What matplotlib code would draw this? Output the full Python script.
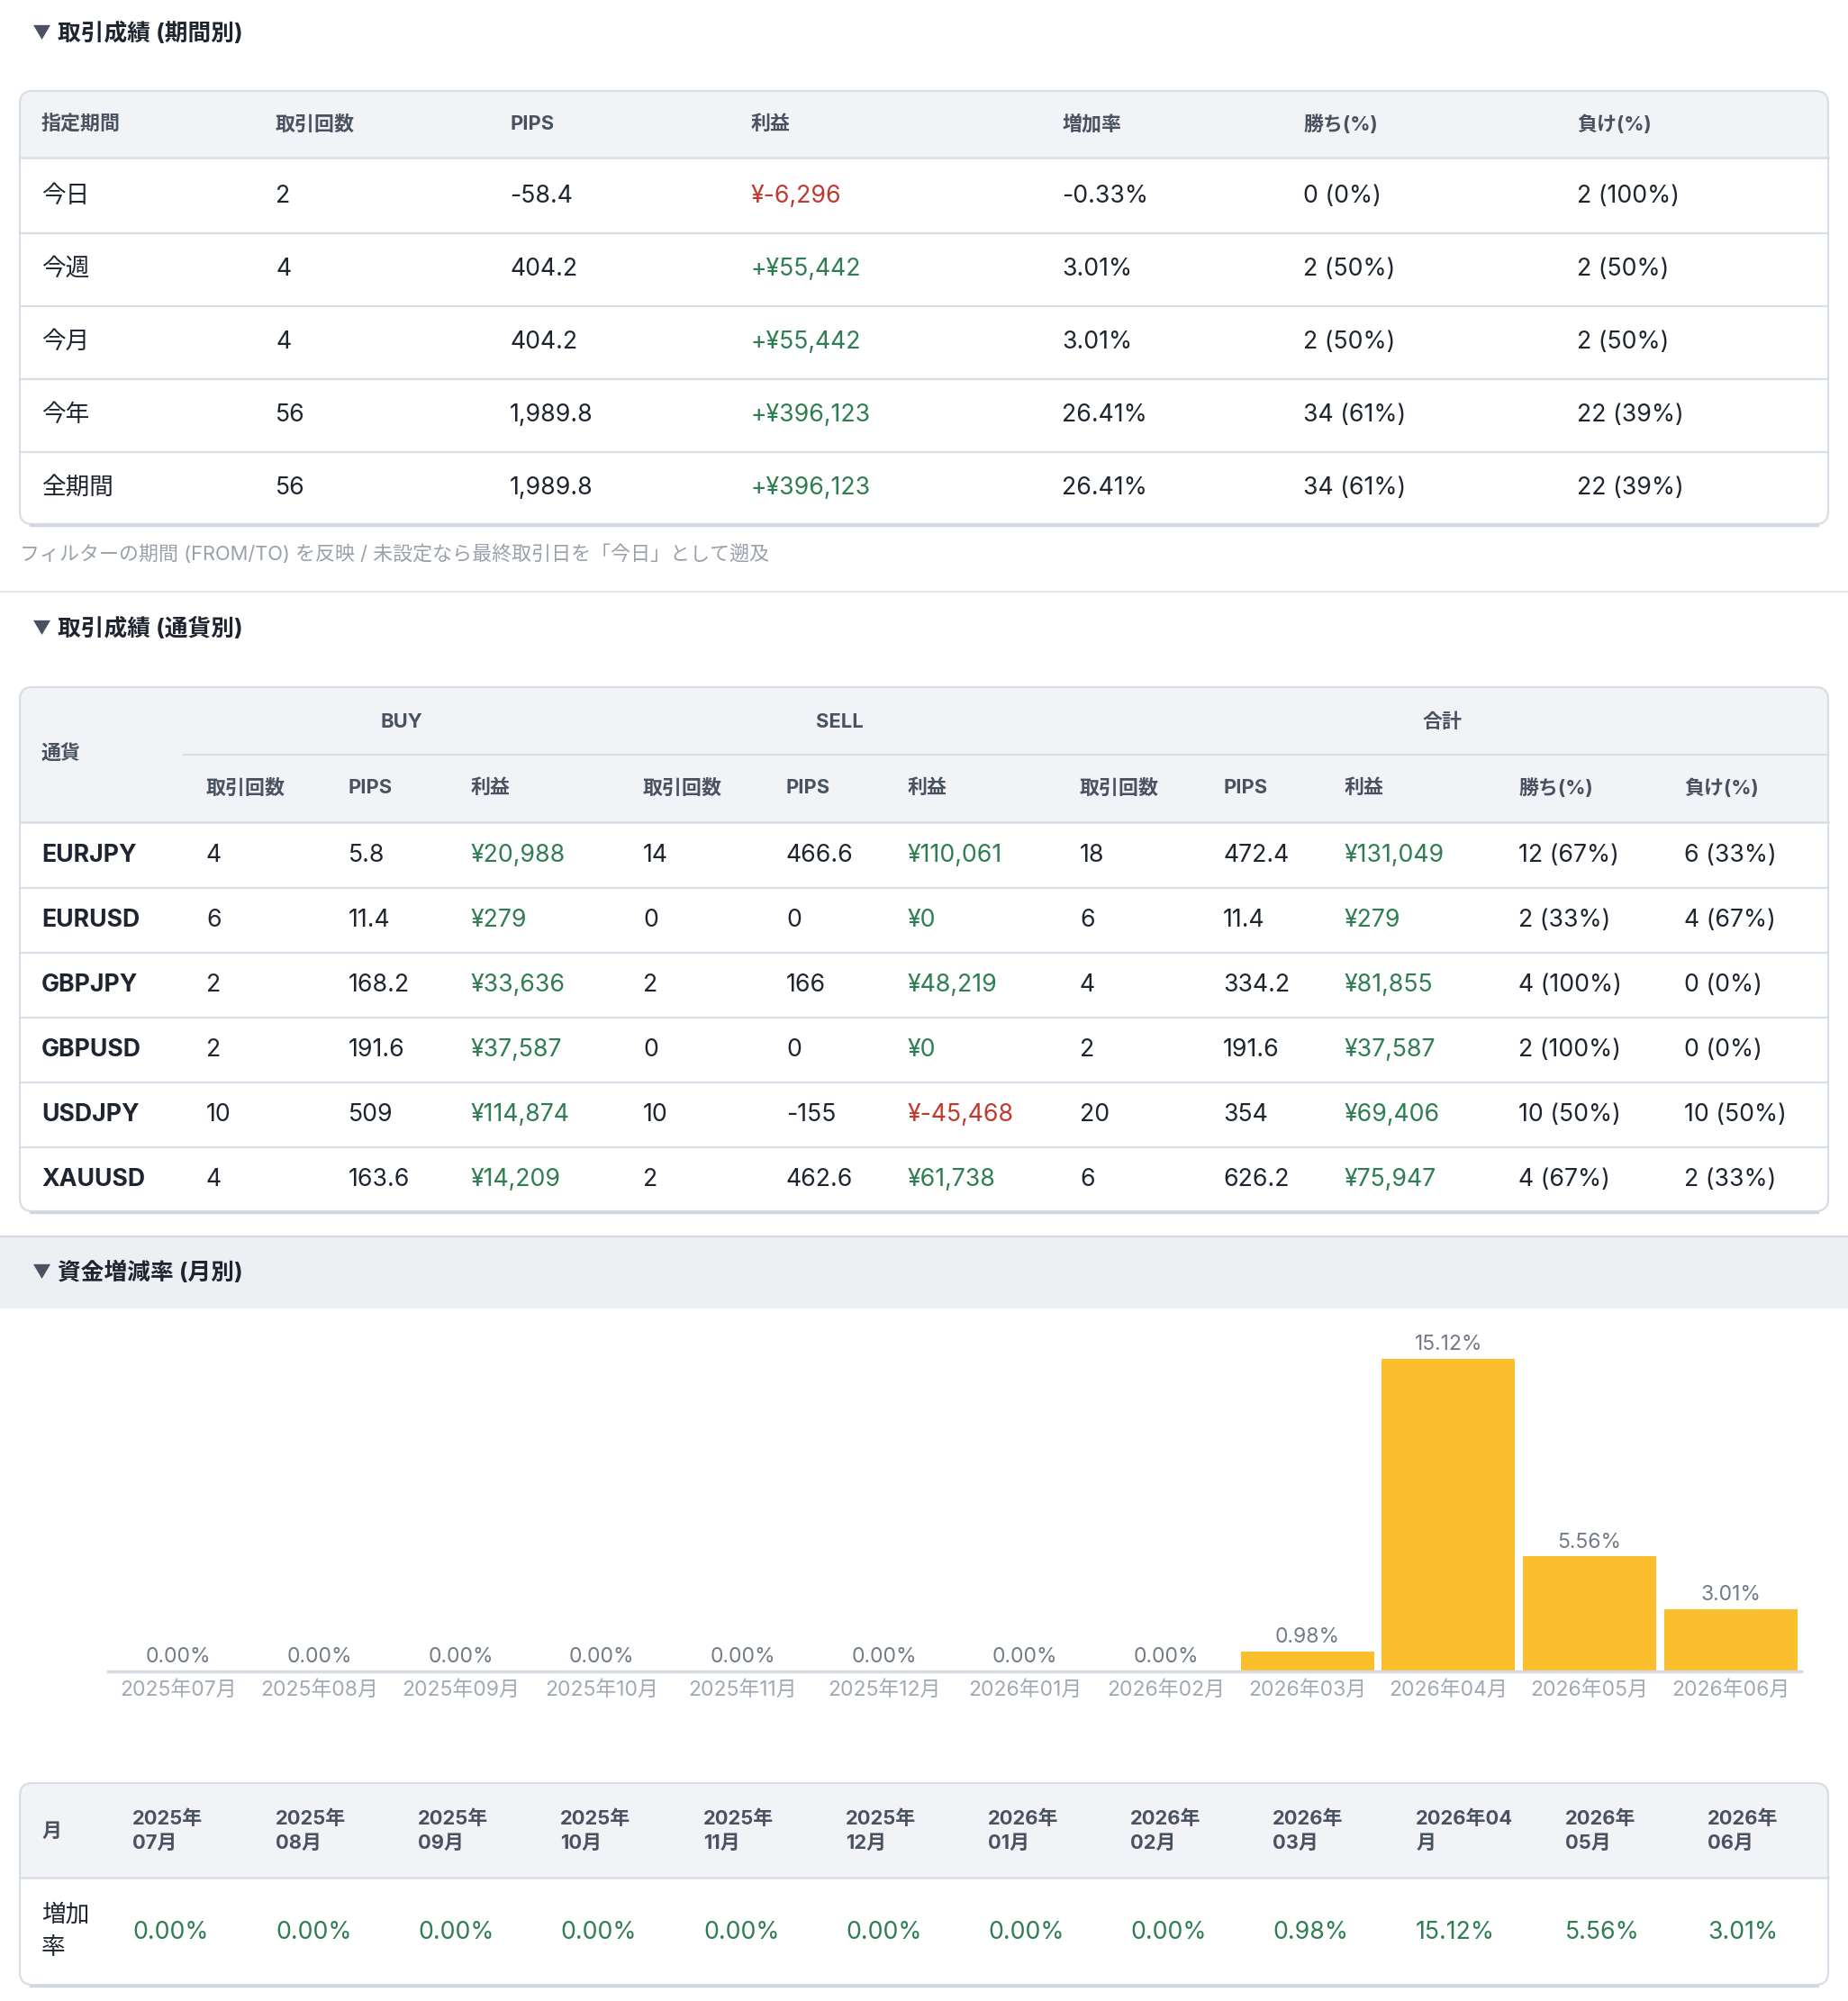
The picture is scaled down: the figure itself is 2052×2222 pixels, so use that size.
import matplotlib
matplotlib.use("Agg")
import matplotlib.pyplot as plt
from matplotlib.patches import FancyBboxPatch, Rectangle

plt.rcParams['font.family'] = ['Inter', 'Noto Sans CJK JP', 'DejaVu Sans']

# ---- data ----
period_labels = ['今日', '今週', '今月', '今年', '全期間']
period_trades = [2, 4, 4, 56, 56]
period_pips = ['-58.4', '404.2', '404.2', '1,989.8', '1,989.8']
period_profit = [-6296, 55442, 55442, 396123, 396123]
period_rate = ['-0.33%', '3.01%', '3.01%', '26.41%', '26.41%']
period_win = ['0 (0%)', '2 (50%)', '2 (50%)', '34 (61%)', '34 (61%)']
period_loss = ['2 (100%)', '2 (50%)', '2 (50%)', '22 (39%)', '22 (39%)']

pairs = ['EURJPY', 'EURUSD', 'GBPJPY', 'GBPUSD', 'USDJPY', 'XAUUSD']
buy_n = [4, 6, 2, 2, 10, 4]
buy_pips = ['5.8', '11.4', '168.2', '191.6', '509', '163.6']
buy_profit = [20988, 279, 33636, 37587, 114874, 14209]
sell_n = [14, 0, 2, 0, 10, 2]
sell_pips = ['466.6', '0', '166', '0', '-155', '462.6']
sell_profit = [110061, 0, 48219, 0, -45468, 61738]
tot_n = [18, 6, 4, 2, 20, 6]
tot_pips = ['472.4', '11.4', '334.2', '191.6', '354', '626.2']
tot_profit = [131049, 279, 81855, 37587, 69406, 75947]
tot_win = ['12 (67%)', '2 (33%)', '4 (100%)', '2 (100%)', '10 (50%)', '4 (67%)']
tot_loss = ['6 (33%)', '4 (67%)', '0 (0%)', '0 (0%)', '10 (50%)', '2 (33%)']

months = ['2025年07月', '2025年08月', '2025年09月', '2025年10月', '2025年11月', '2025年12月',
          '2026年01月', '2026年02月', '2026年03月', '2026年04月', '2026年05月', '2026年06月']
month_head = ['2025年\n07月', '2025年\n08月', '2025年\n09月', '2025年\n10月', '2025年\n11月', '2025年\n12月',
              '2026年\n01月', '2026年\n02月', '2026年\n03月', '2026年04\n月', '2026年\n05月', '2026年\n06月']
rates = [0.00, 0.00, 0.00, 0.00, 0.00, 0.00, 0.00, 0.00, 0.98, 15.12, 5.56, 3.01]

# ---- styles ----
W, H = 2052, 2222
GREEN = '#2f7d52'
RED = '#c0392f'
DARK = '#1f2530'
HEAD = '#4a5261'
LINE = '#d9dee6'
HEADBG = '#f1f3f6'
BAR = '#fbbf2e'
body_fs = 19.2
head_fs = 15.8
title_fs = 18.5
chart_fs = 16.5

fig = plt.figure(figsize=(W / 100, H / 100), dpi=100)
ax = fig.add_axes([0, 0, 1, 1])
ax.set_xlim(0, W)
ax.set_ylim(H, 0)
ax.axis('off')


def t(x, y, s, color=DARK, size=body_fs, weight='normal', ha='left', **kw):
    ax.text(x, y, s, color=color, fontsize=size, fontweight=weight, ha=ha, va='center', **kw)


def yen(v, plus=False):
    s = '¥{:,}'.format(abs(v))
    if v < 0:
        return '¥-{:,}'.format(abs(v)), RED
    if plus:
        return '+' + s, GREEN
    return s, GREEN


def box(x0, y0, x1, y1, head_bottom):
    # outer box, header fill, border
    ax.add_patch(FancyBboxPatch((x0, y0), x1 - x0, y1 - y0, boxstyle='round,pad=0,rounding_size=14',
                                fc='white', ec='none', zorder=1))
    ax.add_patch(FancyBboxPatch((x0, y0), x1 - x0, head_bottom - y0, boxstyle='round,pad=0,rounding_size=14',
                                fc=HEADBG, ec='none', zorder=1))
    ax.add_patch(Rectangle((x0, head_bottom - 20), x1 - x0, 20, fc=HEADBG, ec='none', zorder=1))
    ax.add_patch(FancyBboxPatch((x0, y0), x1 - x0, y1 - y0, boxstyle='round,pad=0,rounding_size=14',
                                fc='none', ec=LINE, lw=1.6, zorder=3))
    ax.plot([x0 + 12, x1 - 12], [y1 + 1, y1 + 1], color='#d3d8e0', lw=2.5, zorder=3)
    ax.plot([x0, x1], [head_bottom, head_bottom], color=LINE, lw=1.8, zorder=2)


def title(y, s):
    t(36, y, '▼', color=HEAD, size=15)
    t(64, y, s, color=DARK, size=title_fs, weight='bold')


# ---- section 1 : period table ----
title(37, '取引成績 (期間別)')
box(22, 101, 2030, 582, 175)
cols1 = [46, 306, 566, 834, 1179, 1447, 1751]
heads1 = ['指定期間', '取引回数', 'PIPS', '利益', '増加率', '勝ち(%)', '負け(%)']
for x, h in zip(cols1, heads1):
    t(x, 138, h, color=HEAD, size=head_fs, weight='bold')
row_y1 = [218, 299, 380, 461, 542]
for i, y in enumerate(row_y1):
    if i > 0:
        ax.plot([22, 2030], [y - 40.5, y - 40.5], color=LINE, lw=1.6, zorder=2)
    p, c = yen(period_profit[i], plus=True)
    vals = [period_labels[i], str(period_trades[i]), period_pips[i], p, period_rate[i],
            period_win[i], period_loss[i]]
    for j, (x, v) in enumerate(zip(cols1, vals)):
        t(x, y, v, color=c if j == 3 else DARK)
t(22, 615, 'フィルターの期間 (FROM/TO) を反映 / 未設定なら最終取引日を「今日」として遡及',
  color='#9aa1ab', size=15.8)
ax.plot([0, W], [657, 657], color='#e3e6eb', lw=1.6)

# ---- section 2 : currency table ----
title(698, '取引成績 (通貨別)')
box(22, 763, 2030, 1345, 913)
ax.plot([204, 2030], [838, 838], color=LINE, lw=1.6, zorder=2)
t(46, 837, '通貨', color=HEAD, size=head_fs, weight='bold')
t(446, 802, 'BUY', color=HEAD, size=head_fs, weight='bold', ha='center')
t(932, 802, 'SELL', color=HEAD, size=head_fs, weight='bold', ha='center')
t(1602, 802, '合計', color=HEAD, size=head_fs, weight='bold', ha='center')
cols2 = [229, 387, 523, 714, 873, 1008, 1199, 1358, 1493, 1686, 1870]
heads2 = ['取引回数', 'PIPS', '利益'] * 3 + ['勝ち(%)', '負け(%)']
for x, h in zip(cols2, heads2):
    t(x, 875, h, color=HEAD, size=head_fs, weight='bold')
row_y2 = [950, 1022, 1094, 1166, 1238, 1310]
for i, y in enumerate(row_y2):
    if i > 0:
        ax.plot([22, 2030], [y - 36, y - 36], color=LINE, lw=1.6, zorder=2)
    t(46, y, pairs[i], weight='bold')
    bp, bc = yen(buy_profit[i])
    sp, sc = yen(sell_profit[i])
    tp, tc = yen(tot_profit[i])
    vals = [str(buy_n[i]), buy_pips[i], bp, str(sell_n[i]), sell_pips[i], sp,
            str(tot_n[i]), tot_pips[i], tp, tot_win[i], tot_loss[i]]
    colors = [DARK, DARK, bc, DARK, DARK, sc, DARK, DARK, tc, DARK, DARK]
    for x, v, c in zip(cols2, vals, colors):
        t(x, y, v, color=c)

# ---- section 3 : monthly chart ----
ax.add_patch(Rectangle((0, 1373), W, 80, fc='#edf0f3', ec='none'))
ax.plot([0, W], [1373, 1373], color='#d6dae1', lw=1.6)
title(1413, '資金増減率 (月別)')

px_per_unit = 22.95
ymax = 16.8
base_y = 1856
ax2 = fig.add_axes([120 / W, (H - base_y) / H, 1880 / W, ymax * px_per_unit / H])
xs = list(range(len(months)))
ax2.bar(xs, rates, width=0.945, color=BAR)
ax2.set_xlim(-0.5, len(months) - 0.5)
ax2.set_ylim(0, ymax)
for x, v in zip(xs, rates):
    ax2.annotate('{:.2f}%'.format(v), (x, v), xytext=(0, 3.5), textcoords='offset points',
                 ha='center', va='bottom', fontsize=chart_fs, color='#737b88')
ax2.set_xticks(xs)
ax2.set_xticklabels(months, fontsize=chart_fs, color='#a3a9b4')
ax2.tick_params(axis='x', length=0, pad=7)
ax2.set_yticks([])
for s in ['top', 'left', 'right']:
    ax2.spines[s].set_visible(False)
ax2.spines['bottom'].set_color('#d5d9e1')
ax2.spines['bottom'].set_linewidth(2.5)
ax2.patch.set_alpha(0)

# ---- section 3 : monthly table ----
box(22, 1980, 2030, 2204, 2085)
t(46, 2034, '月', color=HEAD, size=head_fs, weight='bold')
t(46, 2145, '増加\n率', linespacing=1.5)
cols3 = [147, 306, 464, 622, 781, 939, 1097, 1255, 1413, 1572, 1738, 1896]
for x, h, v in zip(cols3, month_head, rates):
    t(x, 2033, h, color=HEAD, size=head_fs, weight='bold', linespacing=1.45)
    t(x, 2146, '{:.2f}%'.format(v), color=GREEN)

fig.savefig('out.png', dpi=100, facecolor='white')
